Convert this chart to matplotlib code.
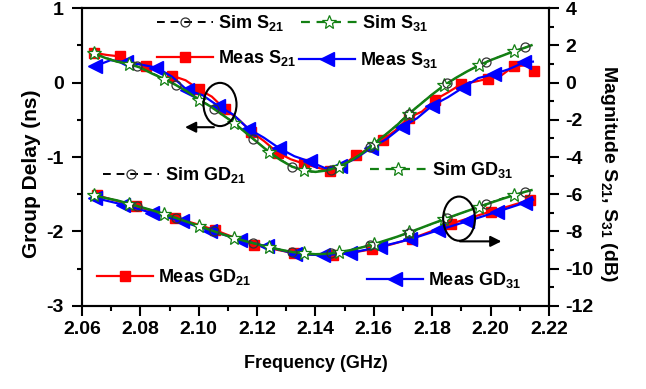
import numpy as np
import matplotlib
matplotlib.use("Agg")
import matplotlib.pyplot as plt
from matplotlib.lines import Line2D
from matplotlib.patches import Ellipse
from matplotlib.ticker import MultipleLocator

plt.rcParams['font.family'] = ['Liberation Sans', 'DejaVu Sans']
plt.rcParams['font.weight'] = 'bold'
plt.rcParams['mathtext.fontset'] = 'custom'
plt.rcParams['mathtext.rm'] = 'Liberation Sans:bold'
plt.rcParams['mathtext.it'] = 'Liberation Sans:bold'
plt.rcParams['mathtext.bf'] = 'Liberation Sans:bold'
plt.rcParams['mathtext.default'] = 'rm'
plt.rcParams['axes.unicode_minus'] = False

# ---------------- data: upper curves (left axis, ns) ----------------
f_sim31_top = [2.064, 2.068, 2.072, 2.076, 2.080, 2.084, 2.088, 2.092, 2.096, 2.100,
               2.104, 2.108, 2.112, 2.116, 2.120, 2.124, 2.128, 2.132, 2.136, 2.140,
               2.144, 2.148, 2.152, 2.156, 2.160, 2.164, 2.168, 2.172, 2.176, 2.180,
               2.184, 2.188, 2.192, 2.196, 2.200, 2.204, 2.208, 2.212, 2.214]
sim31_top = [0.39, 0.33, 0.28, 0.25, 0.20, 0.12, 0.05, -0.03, -0.12, -0.23,
             -0.32, -0.43, -0.54, -0.67, -0.80, -0.93, -1.04, -1.13, -1.18, -1.20,
             -1.18, -1.13, -1.05, -0.95, -0.82, -0.70, -0.57, -0.42, -0.29, -0.16,
             -0.04, 0.06, 0.15, 0.23, 0.30, 0.36, 0.42, 0.47, 0.50]

f_sim21_top = [2.0655, 2.0722, 2.0788, 2.0855, 2.0921, 2.0988, 2.1054, 2.1121, 2.1187, 2.1254,
               2.1320, 2.1387, 2.1453, 2.1520, 2.1586, 2.1653, 2.1719, 2.1786, 2.1852, 2.1919,
               2.1985, 2.2052, 2.2118, 2.2140]
sim21_top = [0.37, 0.28, 0.22, 0.10, -0.03, -0.19, -0.35, -0.54, -0.76, -0.97,
             -1.13, -1.20, -1.17, -1.05, -0.87, -0.66, -0.42, -0.20, -0.01, 0.15,
             0.28, 0.38, 0.47, 0.50]

f_meas21_top = [2.0640, 2.0685, 2.0730, 2.0775, 2.0820, 2.0865, 2.0910, 2.0955, 2.1000, 2.1045,
                2.1090, 2.1135, 2.1180, 2.1225, 2.1270, 2.1315, 2.1360, 2.1405, 2.1450, 2.1495,
                2.1540, 2.1585, 2.1630, 2.1675, 2.1720, 2.1765, 2.1810, 2.1855, 2.1900, 2.1945,
                2.1990, 2.2035, 2.2080, 2.2125, 2.2150]
meas21_top = [0.40, 0.37, 0.35, 0.27, 0.22, 0.16, 0.09, 0.03, -0.09, -0.19,
              -0.36, -0.49, -0.66, -0.79, -0.94, -1.03, -1.09, -1.14, -1.19, -1.11,
              -0.97, -0.89, -0.77, -0.64, -0.47, -0.39, -0.23, -0.13, -0.02, 0.01,
              0.05, 0.09, 0.22, 0.23, 0.15]

f_meas31_top = [2.0645, 2.0698, 2.0750, 2.0803, 2.0855, 2.0908, 2.0960, 2.1013, 2.1065, 2.1118,
                2.1170, 2.1223, 2.1275, 2.1328, 2.1380, 2.1433, 2.1485, 2.1538, 2.1590, 2.1643,
                2.1695, 2.1748, 2.1800, 2.1853, 2.1905, 2.1958, 2.2010, 2.2063, 2.2115, 2.2145]
meas31_top = [0.22, 0.30, 0.27, 0.24, 0.20, 0.08, -0.10, -0.17, -0.31, -0.43,
              -0.62, -0.74, -0.88, -0.99, -1.06, -1.15, -1.12, -1.02, -0.88, -0.76,
              -0.60, -0.48, -0.31, -0.20, -0.07, 0.06, 0.11, 0.18, 0.27, 0.28]

# ---------------- data: lower curves (right axis, dB) ----------------
simgd31 = [-6.05, -6.20, -6.33, -6.50, -6.68, -6.86, -7.05, -7.26, -7.48, -7.70,
           -7.92, -8.14, -8.33, -8.52, -8.68, -8.84, -8.98, -9.10, -9.18, -9.22,
           -9.20, -9.12, -9.00, -8.85, -8.68, -8.48, -8.28, -8.05, -7.82, -7.58,
           -7.35, -7.12, -6.90, -6.68, -6.46, -6.25, -6.05, -5.86, -5.78]
simgd21 = [-6.10, -6.34, -6.62, -6.93, -7.26, -7.64, -8.00, -8.33, -8.63, -8.88,
           -9.10, -9.21, -9.18, -9.00, -8.74, -8.43, -8.08, -7.67, -7.30, -6.90,
           -6.52, -6.15, -5.88, -5.78]

f_measgd21 = [2.0650, 2.0718, 2.0785, 2.0853, 2.0920, 2.0988, 2.1055, 2.1123, 2.1190, 2.1258,
              2.1325, 2.1393, 2.1460, 2.1528, 2.1595, 2.1663, 2.1730, 2.1798, 2.1865, 2.1933,
              2.2000, 2.2068, 2.2135]
measgd21 = [-6.05, -6.35, -6.65, -6.95, -7.27, -7.58, -7.92, -8.33, -8.70, -8.95,
            -9.16, -9.25, -9.25, -9.13, -8.95, -8.68, -8.38, -7.98, -7.58, -7.25,
            -6.93, -6.62, -6.30]

f_measgd31 = [2.0645, 2.0741, 2.0839, 2.0942, 2.1039, 2.1141, 2.1233, 2.1330, 2.1427, 2.1518,
              2.1621, 2.1724, 2.1821, 2.1918, 2.2021, 2.2118, 2.2145]
measgd31 = [-6.20, -6.56, -7.00, -7.46, -7.95, -8.44, -8.80, -9.20, -9.28, -9.16,
            -8.82, -8.42, -7.93, -7.46, -6.95, -6.45, -6.30]

RED = '#ff0000'
BLUE = '#0000ff'
GREEN = '#138013'

fig = plt.figure(figsize=(6.46, 3.89), dpi=100)
ax = fig.add_axes([0.1269, 0.2134, 0.7229, 0.7660])
ax2 = ax.twinx()

sq = dict(marker='s', ms=7.5, mfc=RED, mec=RED)
tri = dict(marker='<', ms=9.5, mfc=BLUE, mec=BLUE)
circ = dict(marker='o', ms=6.5, mfc='none', mec='#333333', mew=0.9)
star = dict(marker='*', ms=10, mfc='white', mec=GREEN, mew=0.9)

# upper (left axis)
ax.plot(f_sim21_top, sim21_top, color='k', lw=1.0, ls=(0, (4, 3)), zorder=2)
ax.plot(f_meas21_top, meas21_top, color=RED, lw=1.6, markevery=2, zorder=3, **sq)
ax.plot(f_meas31_top, meas31_top, color=BLUE, lw=1.6, markevery=2, zorder=4, **tri)
ax.plot(f_sim31_top, sim31_top, color=GREEN, lw=1.8, markevery=3, zorder=5, **star)
ax.plot(f_sim21_top, sim21_top, ls='none', markevery=slice(2, None, 2), zorder=6, **circ)

# lower (right axis)
ax2.plot(f_sim21_top, simgd21, color='k', lw=1.0, ls=(0, (4, 3)), zorder=2)
ax2.plot(f_measgd21, measgd21, color=RED, lw=1.6, markevery=2, zorder=3, **sq)
ax2.plot(f_measgd31, measgd31, color=BLUE, lw=1.6, markevery=list(range(len(f_measgd31) - 1)),
         zorder=4, **tri)
ax2.plot(f_sim31_top, simgd31, color=GREEN, lw=1.8, markevery=3, zorder=5, **star)
ax2.plot(f_sim21_top, simgd21, ls='none', markevery=slice(2, None, 2), zorder=6, **circ)

# axes
ax.set_xlim(2.06, 2.22)
ax.set_ylim(-3, 1)
ax2.set_ylim(-12, 4)
ax.xaxis.set_major_locator(MultipleLocator(0.02))
ax.xaxis.set_minor_locator(MultipleLocator(0.01))
ax.yaxis.set_major_locator(MultipleLocator(1))
ax.yaxis.set_minor_locator(MultipleLocator(0.5))
ax2.yaxis.set_major_locator(MultipleLocator(2))
ax2.yaxis.set_minor_locator(MultipleLocator(1))
ax.xaxis.set_major_formatter(matplotlib.ticker.FormatStrFormatter('%.2f'))
for a in (ax, ax2):
    for s in a.spines.values():
        s.set_linewidth(1.5)
    a.tick_params(which='major', direction='out', length=7, width=1.5, labelsize=14, pad=4)
    a.tick_params(which='minor', direction='out', length=3.5, width=1.5)
ax.tick_params(axis='x', which='both', top=False)
ax.tick_params(axis='y', which='major', pad=6)
ax2.tick_params(axis='y', which='major', pad=5)
ax.set_xlim(2.06, 2.22)

ax.set_xlabel('Frequency (GHz)', fontsize=13, fontweight='bold', labelpad=12)
yl = ax.set_ylabel('Group Delay (ns)', fontsize=15, fontweight='bold', labelpad=4)
yl2 = ax2.set_ylabel('Magnitude S$_{21}$, S$_{31}$ (dB)', fontsize=14, fontweight='bold',
                     rotation=-90, labelpad=18)
yl.set_y(0.443)
yl2.set_y(0.446)

# ellipses and arrows
ax.add_patch(Ellipse((2.1073, -0.295), 0.0113, 0.58, fill=False, lw=1.5, ec='k', zorder=7))
ax.annotate('', xy=(2.0953, -0.60), xytext=(2.1052, -0.60),
            arrowprops=dict(arrowstyle='-|>', lw=1.5, color='k', mutation_scale=16,
                            shrinkA=0, shrinkB=0), zorder=7)
ax2.add_patch(Ellipse((2.1892, -7.31), 0.0109, 2.37, fill=False, lw=1.5, ec='k', zorder=7))
ax2.annotate('', xy=(2.2037, -8.53), xytext=(2.1895, -8.53),
             arrowprops=dict(arrowstyle='-|>', lw=1.5, color='k', mutation_scale=16,
                             shrinkA=0, shrinkB=0), zorder=7)

# legends (one entry each)
dash = (0, (4, 3))
h_sim21 = Line2D([], [], color='k', lw=1.4, ls=dash, **circ)
h_sim31 = Line2D([], [], color=GREEN, lw=1.6, ls=dash, **star)
h_meas21 = Line2D([], [], color=RED, lw=1.6, **sq)
h_meas31 = Line2D([], [], color=BLUE, lw=1.6, **tri)

entries = [
    (h_sim21, 'Sim S$_{21}$', 0.243, 0.941),
    (h_sim31, 'Sim S$_{31}$', 0.466, 0.941),
    (h_meas21, 'Meas S$_{21}$', 0.243, 0.851),
    (h_meas31, 'Meas S$_{31}$', 0.463, 0.846),
    (h_sim21, 'Sim GD$_{21}$', 0.160, 0.550),
    (h_sim31, 'Sim GD$_{31}$', 0.573, 0.563),
    (h_meas21, 'Meas GD$_{21}$', 0.150, 0.288),
    (h_meas31, 'Meas GD$_{31}$', 0.568, 0.280),
]
for h, lab, x, y in entries:
    fig.legend([h], [lab], loc='center left', bbox_to_anchor=(x, y),
               bbox_transform=fig.transFigure, frameon=False,
               handlelength=3.1, handletextpad=0.3, borderpad=0, borderaxespad=0,
               numpoints=1, prop={'weight': 'bold', 'size': 13})

fig.savefig('out.png', dpi=100)
